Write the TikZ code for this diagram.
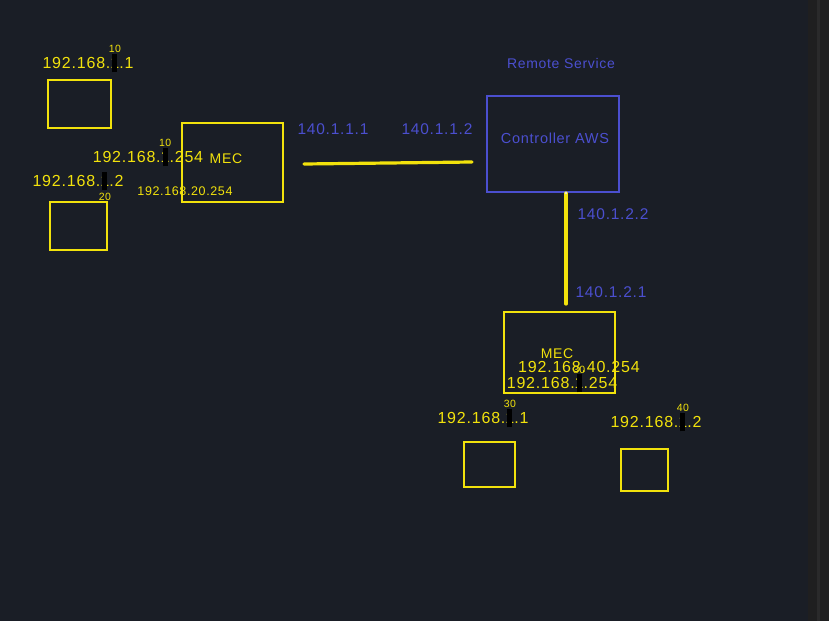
\documentclass[tikz,border=0pt]{standalone}
\usepackage{fontspec}
\setmainfont{Liberation Sans}
\newfontfamily\hand[LetterSpace=5]{Liberation Sans}
\definecolor{bg}{HTML}{1A1E26}
\definecolor{yel}{HTML}{F2E20C}
\definecolor{blu}{HTML}{4B4FCF}
\definecolor{sbar}{HTML}{1F1F20}
\definecolor{sthumb}{HTML}{2A2A2B}
\newcommand\scrib[3]{%
  \sbox0{#1}%
  \rlap{#1}%
  \rlap{\hbox to \wd0{\hss\textcolor{black}{\rule[-0.45ex]{0.55\wd0}{2.2ex}}\hss}}%
  \hbox to \wd0{\hss\raisebox{#2}[0pt][0pt]{\fontsize{10.5}{10.5}\selectfont #3}\hss}}
\begin{document}
\begin{tikzpicture}[x=1pt,y=-1pt,
  ip/.style={text=yel,font=\hand\fontsize{16}{16}\selectfont,inner sep=0pt},
  ipsmall/.style={text=yel,font=\hand\fontsize{12.5}{12.5}\selectfont,inner sep=0pt},
  bl/.style={text=blu,font=\hand\fontsize{15.5}{15.5}\selectfont,inner sep=0pt},
  ybox/.style={draw=yel,line width=1.8pt,inner sep=0pt},
  bbox/.style={draw=blu,line width=1.8pt,inner sep=0pt},
  link/.style={yel,line width=3.2pt,line cap=round}]
\fill[bg] (0,0) rectangle (829,621);
\fill[sbar] (808,0) rectangle (829,621);
\fill[sthumb] (817,0) rectangle (820,621);
\useasboundingbox (0,0) rectangle (829,621);
% left hosts
\node[ybox,minimum width=63,minimum height=48] (hA) at (79.5,104) {};
\node[ybox,minimum width=57,minimum height=48] (hB) at (78.5,226) {};
\node[ip] (ipA) at (88,63) {192.168.\scrib{1}{1.0em}{10}.1};
\node[ip] (ipB) at (78,181) {192.168.\scrib{1}{-0.85em}{20}.2};
% MEC 1
\node[ybox,minimum width=101,minimum height=79] (mec1) at (232.5,162.5) {};
\node[text=yel,font=\hand\fontsize{14}{14}\selectfont] (mec1l) at (226,159) {MEC};
\node[ip] (ipM1) at (148,157) {192.168.\scrib{1}{1.0em}{10}.254};
\node[ipsmall] (ipM1b) at (185,191) {192.168.20.254};
% links
\node[bl] (l111) at (333,129) {140.1.1.1};
\node[bl] (l112) at (437,129) {140.1.1.2};
\coordinate (la) at (304,164);
\coordinate (lb) at (472,162);
\draw[link] (la) -- (lb);
% Remote service
\node[bl,font=\hand\fontsize{14}{14}\selectfont] (rs) at (561,63) {Remote Service};
\node[bbox,minimum width=132,minimum height=96] (aws) at (553,144) {};
\node[bl,font=\hand\fontsize{14.5}{14.5}\selectfont] (awsl) at (555,138) {Controller AWS};
\coordinate (va) at (566,193);
\coordinate (vb) at (566,304);
\draw[link] (va) -- (vb);
\fill[white!80!gray] (va) circle (1.4);
\node[bl] (l122) at (613,214) {140.1.2.2};
\node[bl] (l121) at (611,292) {140.1.2.1};
% MEC 2
\node[ybox,minimum width=111,minimum height=81] (mec2) at (559.5,352.5) {};
\node[text=yel,font=\hand\fontsize{14}{14}\selectfont] (mec2l) at (557,354) {MEC};
\node[ip] (ipM2a) at (579,367) {192.168.40.254};
\node[ip] (ipM2b) at (562,383) {192.168.\scrib{1}{0.95em}{30}.254};
% right hosts
\node[ip] (ipC) at (483,418) {192.168.\scrib{1}{1.0em}{30}.1};
\node[ybox,minimum width=51,minimum height=45] (hC) at (489.5,464.5) {};
\node[ip] (ipD) at (656,422) {192.168.\scrib{1}{1.0em}{40}.2};
\node[ybox,minimum width=47,minimum height=42] (hD) at (644.5,470) {};
\end{tikzpicture}
\end{document}
